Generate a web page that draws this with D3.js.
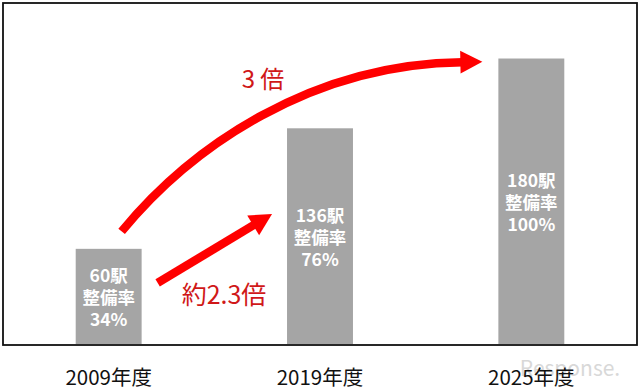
<!DOCTYPE html>
<head>
  <meta charset="utf-8" />
  <script src="https://d3js.org/d3.v7.min.js"></script>
  <style>
    body { margin: 0; background: #fff; }
    text { font-family: "Noto Sans CJK JP", "Noto Sans", sans-serif; }
  </style>
</head>
<body>
  <script>
    // データ
    var years = ["2009年度", "2019年度", "2025年度"];
    var stations = [60, 136, 180];
    var rates = ["34%", "76%", "100%"];
    var growthLabels = ["約2.3倍", "3 倍"];

    var width = 640, height = 389;

    var svg = d3.select("body").append("svg")
      .attr("width", width)
      .attr("height", height);

    var x = d3.scaleBand()
      .domain(years)
      .range([3, 637])
      .paddingInner(0.688)
      .paddingOuter(0.344);

    var y = d3.scaleLinear()
      .domain([0, 215])
      .range([344, 3]);

    // 枠
    svg.append("rect")
      .attr("x", 3)
      .attr("y", 3)
      .attr("width", 634)
      .attr("height", 342)
      .attr("fill", "none")
      .attr("stroke", "#111")
      .attr("stroke-width", 1.8);

    // 棒
    svg.selectAll("rect.bar")
      .data(years)
      .enter()
      .append("rect")
      .attr("class", "bar")
      .attr("x", d => x(d))
      .attr("y", (d, i) => y(stations[i]))
      .attr("width", x.bandwidth())
      .attr("height", (d, i) => y(0) - y(stations[i]))
      .attr("fill", "#a5a5a5");

    // 棒の中の文字
    var lineGap = 22;
    years.forEach(function (yr, i) {
      var cx = x(yr) + x.bandwidth() / 2;
      var cy = (y(stations[i]) + y(0)) / 2;
      var lines = [stations[i] + "駅", "整備率", rates[i]];
      svg.append("g").selectAll("text")
        .data(lines)
        .enter()
        .append("text")
        .attr("x", cx)
        .attr("y", (d, j) => cy + (j - 1) * lineGap)
        .attr("text-anchor", "middle")
        .attr("dominant-baseline", "central")
        .attr("fill", "#fff")
        .attr("font-weight", "bold")
        .attr("font-size", 17.5)
        .text(d => d);
    });

    // ウォーターマーク
    svg.append("text")
      .attr("x", 570)
      .attr("y", 367)
      .attr("text-anchor", "middle")
      .attr("dominant-baseline", "central")
      .attr("fill", "#cfcfcf")
      .attr("font-family", "DejaVu Sans")
      .attr("font-size", 21)
      .attr("opacity", 0.8)
      .text("Response.");

    // 年度ラベル
    svg.selectAll("text.year")
      .data(years)
      .enter()
      .append("text")
      .attr("class", "year")
      .attr("x", d => x(d) + x.bandwidth() / 2)
      .attr("y", 376)
      .attr("text-anchor", "middle")
      .attr("dominant-baseline", "central")
      .attr("fill", "#111")
      .attr("font-size", 20.5)
      .text(d => d);

    // 矢印
    function arrowHead(tip, angle) {
      var len = 22, half = 11.5;
      var bx = tip[0] - len * Math.cos(angle), by = tip[1] - len * Math.sin(angle);
      var px = -Math.sin(angle) * half, py = Math.cos(angle) * half;
      return "M" + tip[0] + "," + tip[1] +
        "L" + (bx + px) + "," + (by + py) +
        "L" + (bx - px) + "," + (by - py) + "Z";
    }

    var b0 = x(years[0]) + x.bandwidth();
    var b1 = x(years[1]);
    var b2 = x(years[2]);

    // 直線の矢印 (2009 -> 2019)
    var s0 = [b0 + 16, y(38.5)];
    var s1 = [b1 - 15, y(82)];
    var sa = Math.atan2(s1[1] - s0[1], s1[0] - s0[0]);
    var sEnd = [s1[0] - 20 * Math.cos(sa), s1[1] - 20 * Math.sin(sa)];
    svg.append("line")
      .attr("x1", s0[0]).attr("y1", s0[1])
      .attr("x2", sEnd[0]).attr("y2", sEnd[1])
      .attr("stroke", "#ff0000")
      .attr("stroke-width", 8.5);
    svg.append("path")
      .attr("d", arrowHead(s1, sa))
      .attr("fill", "#ff0000");

    // 曲線の矢印 (2009 -> 2025)
    var c0 = [b0 - 20, y(71)];
    var c3 = [b2 - 16, y(178)];
    var cEnd = [c3[0] - 20, c3[1] + 0.5];
    var p = d3.path();
    p.moveTo(c0[0], c0[1]);
    p.bezierCurveTo(c0[0] + 70, c0[1] - 85, c0[0] + 190, c3[1] + 2, cEnd[0], cEnd[1]);
    svg.append("path")
      .attr("d", p.toString())
      .attr("fill", "none")
      .attr("stroke", "#ff0000")
      .attr("stroke-width", 8.5);
    svg.append("path")
      .attr("d", arrowHead(c3, -0.02))
      .attr("fill", "#ff0000");

    // 倍率ラベル
    svg.append("text")
      .attr("x", 224)
      .attr("y", 293)
      .attr("text-anchor", "middle")
      .attr("dominant-baseline", "central")
      .attr("fill", "#d01818")
      .attr("font-size", 25)
      .text(growthLabels[0]);

    svg.append("text")
      .attr("x", 263)
      .attr("y", 77)
      .attr("text-anchor", "middle")
      .attr("dominant-baseline", "central")
      .attr("fill", "#d01818")
      .attr("font-size", 24)
      .text(growthLabels[1]);
  </script>
</body>
